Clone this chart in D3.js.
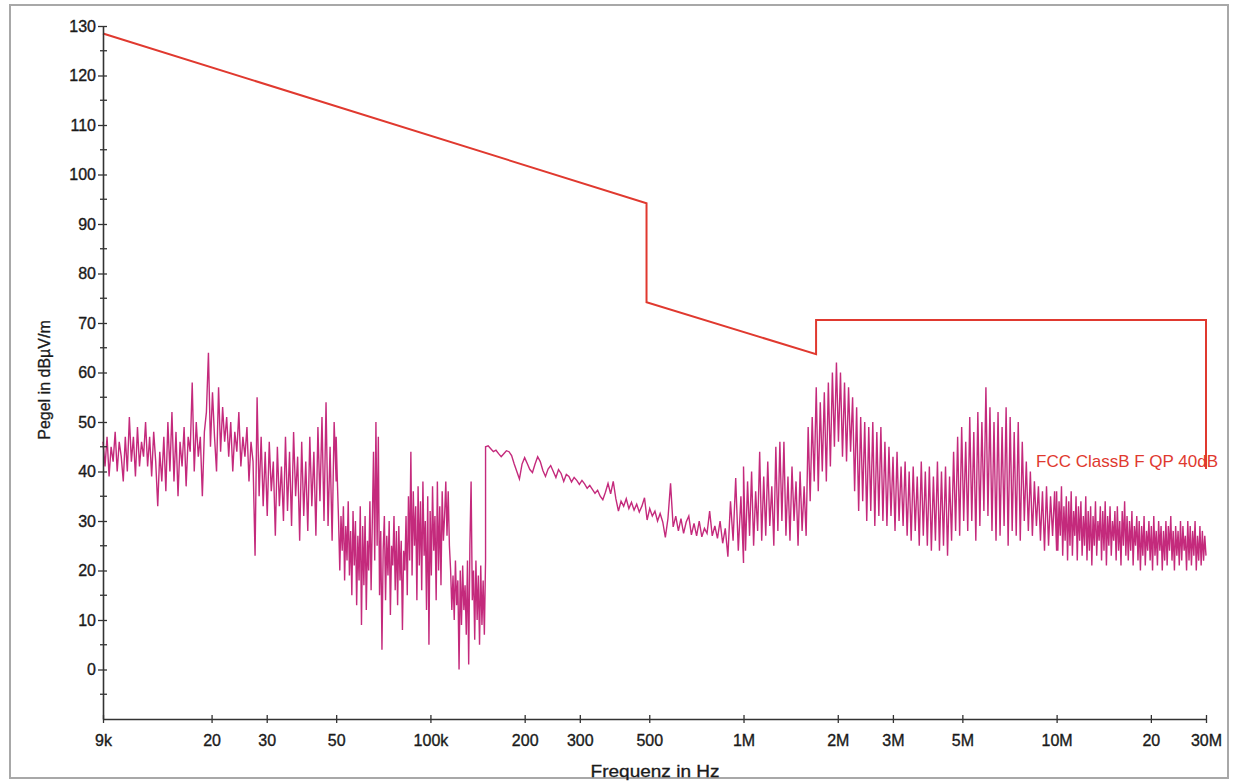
<!DOCTYPE html>
<html>
<head>
<meta charset="utf-8">
<script src="https://cdn.jsdelivr.net/npm/d3@7"></script>
<style>
  html, body { margin: 0; padding: 0; background: #fff; }
  svg { display: block; }
  text { font-family: "Liberation Sans", Arial, sans-serif; }
</style>
</head>
<body>
<svg id="chart" width="1233" height="782"></svg>
<script>
// sweep 9 kHz .. 50 kHz
const sweepA = { from: 9e3, to: 50e3 };
const levelsA = [
  46, 41, 47, 39, 45, 42, 48, 40, 46, 43,
  38, 47, 40, 51, 42, 47, 39, 49, 41, 46,
  43, 50, 41, 47, 39, 48, 42, 33, 44, 38,
  47, 36, 50, 40, 52, 38, 48, 35, 46, 41,
  49, 37, 47, 44, 58, 40, 50, 43, 47, 35,
  48, 52, 64, 45, 56, 47, 40, 57, 44, 53,
  46, 51, 43, 50, 40, 48, 44, 52, 41, 47,
  43, 49, 38, 46, 42, 23, 55, 35, 47, 33,
  44, 31, 46, 36, 42, 27, 45, 33, 41, 30,
  47, 32, 44, 29, 48, 35, 43, 26, 46, 31,
  42, 28, 47, 33, 44, 27, 49, 34, 51, 30,
  54, 29, 45, 26, 50, 38
];

// sweep 50 kHz .. 150 kHz (finer steps)
const sweepB = { from: 50e3, to: 150e3 };
const levelsB = [
  47, 38, 30, 20, 31, 24, 33, 18, 29, 22,
  34, 19, 28, 15, 32, 21, 30, 13, 27, 18,
  33, 9, 29, 17, 31, 12, 26, 20, 34, 16,
  30, 44, 22, 50, 25, 47, 15, 28, 4, 24,
  31, 14, 27, 19, 30, 11, 25, 21, 31, 16,
  28, 13, 29, 18, 26, 8, 24, 20, 31, 15,
  35, 22, 44, 19, 36, 25, 33, 14, 37, 21,
  34, 16, 38, 23, 30, 12, 35, 5, 32, 19,
  37, 24, 31, 14, 38, 20, 33, 17, 36, 26,
  31, 38, 27, 36, 25, 20, 12, 19, 10, 22,
  13, 18, 0, 20, 9, 21, 12, 17, 7, 22,
  1, 25, 38, 14, 20, 6, 22, 10, 19, 5,
  21, 9, 18, 7, 22
];

// sweep 150 kHz .. 1 MHz
const sweepC = { from: 150e3, to: 1e6 };
const levelsC = [
  45, 45.2, 44.6, 44.0, 44.3, 43.6, 43.0, 43.6, 44.2, 44.0,
  43.2, 41.5, 40.0, 38.5, 41.5, 42.8, 41.6, 40.4, 39.8, 41.5,
  43.0, 42.0, 40.2, 39.0, 40.5, 41.2, 40.0, 38.8, 40.4, 39.6,
  38.0, 39.4, 39.0, 37.9, 38.8, 38.2, 37.4, 38.2, 37.5, 36.6,
  37.2, 36.4, 35.6, 36.2, 35.0, 34.3, 35.8, 37.6, 35.5, 38.0,
  34.5, 32.0, 34.0, 33.0, 34.5, 32.5, 33.8, 32.2, 33.4, 31.8,
  33.0, 34.7, 30.2, 32.5, 31.0, 32.0, 30.0, 31.5, 29.8, 26.7,
  30.5, 37.6, 28.8, 31.0, 28.0, 30.5, 27.5, 29.8, 31.0, 27.2,
  29.5, 27.0, 30.0, 26.8, 28.5, 27.5, 32.0, 27.0, 29.0, 26.5,
  30.0, 25.5, 28.5, 22.8, 34.0, 26.0, 38.7, 24.0, 35.0, 21.5
];

// sweep 1 MHz .. 10 MHz
const sweepD = { from: 1e6, to: 10e6 };
const levelsD = [
  41, 24, 38, 27, 40, 25, 36, 28, 44, 26,
  39, 27, 42, 29, 37, 25, 45, 28, 46, 30,
  46, 27, 39, 26, 41, 30, 38, 25, 40, 28,
  37, 27, 49, 34, 51, 38, 57, 36, 54, 40,
  56, 38, 58, 41, 60, 45, 62, 46, 60, 43,
  58, 42, 57, 44, 55, 36, 53, 32, 51, 34,
  50, 30, 49, 32, 50, 29, 48, 31, 49, 30,
  46, 29, 45, 31, 43, 28, 44, 30, 41, 29,
  42, 27, 40, 26, 41, 28, 39, 25, 42, 27,
  40, 25, 41, 24, 39, 26, 42, 24, 40, 25,
  41, 23, 39, 26, 44, 28, 47, 27, 49, 30,
  46, 28, 51, 30, 48, 26, 52, 29, 50, 32,
  57, 31, 53, 28, 50, 26, 52, 27, 49, 29,
  53, 25, 51, 28, 48, 27, 50, 26, 46, 30,
  42, 28, 40, 27, 38, 29, 37, 26, 36, 24,
  37, 25, 35, 27, 36, 24
];

// sweep 10 MHz .. 30 MHz (finer steps)
const sweepE = { from: 10e6, to: 30e6 };
const levelsE = [
  36, 24, 34, 27, 37, 23, 33, 26, 35, 22,
  34, 25, 36, 23, 32, 27, 35, 22, 33, 26,
  34, 23, 31, 25, 35, 22, 32, 24, 33, 21,
  31, 25, 34, 23, 30, 26, 33, 22, 32, 24,
  34, 21, 31, 25, 33, 23, 30, 26, 32, 22,
  33, 24, 30, 21, 32, 25, 34, 23, 31, 22,
  30, 24, 32, 21, 29, 25, 31, 22, 30, 20,
  29, 23, 31, 21, 28, 24, 30, 22, 29, 20,
  31, 23, 28, 21, 30, 24, 29, 20, 28, 22,
  30, 21, 29, 24, 31, 22, 28, 20, 29, 23,
  28, 21, 30, 22, 29, 24, 27, 20, 30, 22,
  29, 21, 28, 23, 30, 20, 27, 22, 29, 21,
  28, 22, 27, 23
];

// limit line FCC Class B QP
const limitFreq = [9e3, 490e3, 490e3, 1.705e6, 1.705e6, 30e6, 30e6];
const limitLevel = [128.5, 94.2, 74.2, 63.7, 70.6, 70.6, 40.5];
const limitName = "FCC ClassB F QP 40dB";

const xTickValues = [9e3, 2e4, 3e4, 5e4, 1e5, 2e5, 3e5, 5e5, 1e6, 2e6, 3e6, 5e6, 1e7, 2e7, 3e7];
const xTickLabels = ["9k", "20", "30", "50", "100k", "200", "300", "500", "1M", "2M", "3M", "5M", "10M", "20", "30M"];
const yMajorTicks = [0, 10, 20, 30, 40, 50, 60, 70, 80, 90, 100, 110, 120, 130];
const yMinorTicks = [-5, 5, 15, 25, 35, 45, 55, 65, 75, 85, 95, 105, 115, 125];

const xLabel = "Frequenz in Hz";
const yLabel = "Pegel in dBµV/m";

const svg = d3.select("#chart");

// page frame of the scan
svg.append("rect")
  .attr("x", 10).attr("y", 5)
  .attr("width", 1218).attr("height", 773)
  .attr("fill", "#fff")
  .attr("stroke", "#a8a8a8")
  .attr("stroke-width", 2);

const x = d3.scaleLog().domain([9e3, 30e6]).range([103, 1206]);
const y = d3.scaleLinear().domain([-10, 130]).range([719, 26]);

// receiver sweep: points evenly spaced in log frequency between start and stop
function sweepPoints(sweep, levels) {
  const n = levels.length;
  const ratio = sweep.to / sweep.from;
  return levels.map((v, i) => ({ f: sweep.from * Math.pow(ratio, i / (n - 1)), v: v }));
}

const trace = [].concat(
  sweepPoints(sweepA, levelsA),
  sweepPoints(sweepB, levelsB),
  sweepPoints(sweepC, levelsC),
  sweepPoints(sweepD, levelsD),
  sweepPoints(sweepE, levelsE)
);

const line = d3.line().x(d => x(d.f)).y(d => y(d.v));

svg.append("path")
  .datum(trace)
  .attr("fill", "none")
  .attr("stroke", "#c42a7c")
  .attr("stroke-width", 1.4)
  .attr("stroke-linejoin", "miter")
  .attr("d", line);

const limitData = limitFreq.map((f, i) => ({ f: f, v: limitLevel[i] }));
svg.append("path")
  .datum(limitData)
  .attr("fill", "none")
  .attr("stroke", "#e0392f")
  .attr("stroke-width", 2)
  .attr("d", line);

// axes
const axisColor = "#333";
const textColor = "#1a1a1a";
const xAxis = d3.axisBottom(x)
  .tickValues(xTickValues)
  .tickFormat((d, i) => xTickLabels[i])
  .tickSize(0)
  .tickPadding(16);

const gx = svg.append("g")
  .attr("transform", `translate(0,${y(-10)})`)
  .call(xAxis);
gx.select(".domain").attr("stroke", axisColor).attr("stroke-width", 1.6);
gx.selectAll(".tick line").attr("y1", -4).attr("y2", 4).attr("stroke", axisColor).attr("stroke-width", 1.3);
gx.selectAll(".tick text")
  .attr("fill", textColor)
  .attr("stroke", textColor)
  .attr("stroke-width", 0.35)
  .style("font-size", "16px");

const yAxis = d3.axisLeft(y)
  .tickValues(yMajorTicks)
  .tickSize(0)
  .tickPadding(7);

const gy = svg.append("g")
  .attr("transform", `translate(${x(9e3)},0)`)
  .call(yAxis);
gy.select(".domain").attr("stroke", axisColor).attr("stroke-width", 1.6);
gy.selectAll(".tick line").attr("x1", -5).attr("x2", 4).attr("stroke", axisColor).attr("stroke-width", 1.3);
gy.selectAll(".tick text")
  .attr("fill", textColor)
  .attr("stroke", textColor)
  .attr("stroke-width", 0.35)
  .style("font-size", "16px");

gy.selectAll(".minor")
  .data(yMinorTicks)
  .join("line")
  .attr("class", "minor")
  .attr("x1", -3).attr("x2", 4)
  .attr("y1", d => y(d)).attr("y2", d => y(d))
  .attr("stroke", axisColor)
  .attr("stroke-width", 1.3);

// axis titles
svg.append("text")
  .attr("transform", "translate(655,777) scale(1.12,1)")
  .attr("text-anchor", "middle")
  .attr("fill", textColor)
  .attr("stroke", textColor)
  .attr("stroke-width", 0.3)
  .style("font-size", "17px")
  .text(xLabel);

svg.append("text")
  .attr("transform", "translate(50,380) rotate(-90)")
  .attr("text-anchor", "middle")
  .attr("fill", textColor)
  .attr("stroke", textColor)
  .attr("stroke-width", 0.3)
  .style("font-size", "16px")
  .text(yLabel);

// limit name
svg.append("text")
  .attr("x", 1036).attr("y", 467)
  .attr("fill", "#e0392f")
  .style("font-size", "17px")
  .text(limitName);
</script>
</body>
</html>
